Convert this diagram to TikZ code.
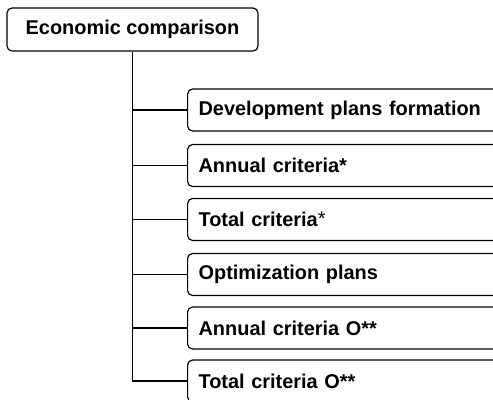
\documentclass[tikz,border=0pt]{standalone}
\usepackage{fontspec}
\setmainfont{Liberation Sans}
\tikzset{
  headbox/.style={draw, rounded corners=5bp, minimum width=251bp, minimum height=43bp,
    inner sep=0pt, font=\fontsize{20}{23}\selectfont\bfseries},
  critbox/.style={draw, rounded corners=5bp, anchor=west, minimum height=42bp,
    inner xsep=11bp, inner ysep=0pt, text width=308bp, align=left,
    font=\fontsize{20}{23}\selectfont\bfseries},
}
\newcommand{\critnode}[3]{\node[critbox] (#1) at (187, #2) {#3};}

\begin{document}
\begin{tikzpicture}[x=1bp, y=-1bp, line width=1.2bp]
        \useasboundingbox (0,0) rectangle (493,399);
        % head
        \node[headbox] (econ) at (132.5, 29.5) {Economic comparison};
        % plans and criteria
        \critnode{dev}{110}{Development plans formation}
        \critnode{annual}{165.5}{Annual criteria*}
        \critnode{total}{219.5}{Total criteria\raisebox{1bp}{\mdseries *}}
        \critnode{optim}{274.5}{Optimization plans}
        \critnode{annualo}{328}{Annual criteria O**}
        \critnode{totalo}{381}{Total criteria O**}
        % tree lines
        \foreach \b in {dev,annual,total,optim,annualo,totalo}
            \draw (econ.south) |- (\b.west);
    \end{tikzpicture}
\end{document}
